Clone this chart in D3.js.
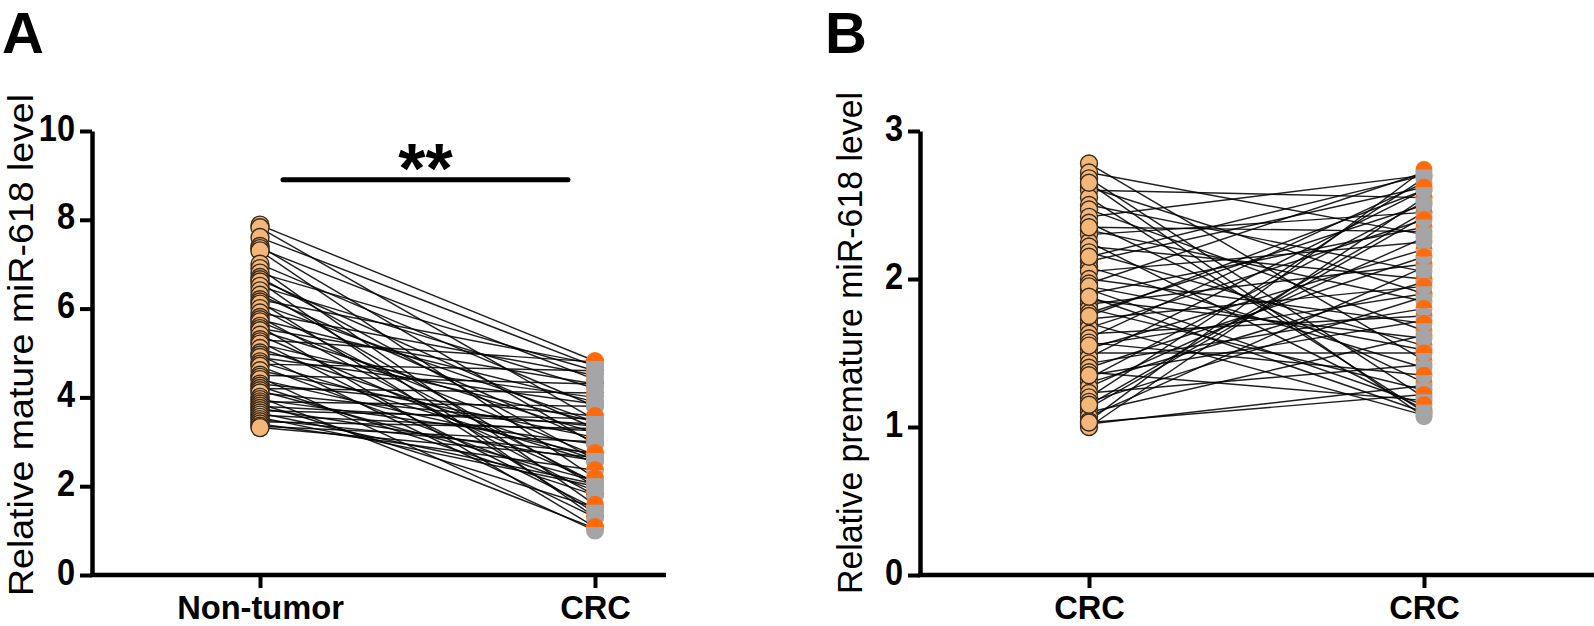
<!DOCTYPE html>
<html><head><meta charset="utf-8">
<script src="https://cdn.jsdelivr.net/npm/d3@7"></script>
<style>
body{margin:0;background:#fff;}
svg{display:block;}
text{font-family:"Liberation Sans",Arial,sans-serif;}
</style></head>
<body>
<svg id="c" width="1594" height="626"></svg>
<script>
// ---- Panel A data (paired: Non-tumor vs CRC) ----
const catsA = ["Non-tumor", "CRC"];
const ticksA = [0, 2, 4, 6, 8, 10];
const nonTumorA = [7.88,7.82,7.6,7.4,7.35,7.3,7.0,6.9,6.8,6.7,6.65,6.6,6.5,6.4,6.3,6.2,6.15,6.1,6.0,5.9,5.8,5.75,5.7,5.6,5.55,5.5,5.4,5.3,5.25,5.2,5.1,5.0,4.95,4.9,4.8,4.75,4.7,4.6,4.5,4.45,4.4,4.3,4.25,4.2,4.15,4.1,4.0,3.95,3.9,3.85,3.8,3.75,3.7,3.65,3.6,3.55,3.5,3.45,3.4,3.35,3.32];
const crcA      = [4.82,3.5,4.7,2.95,4.4,2.18,3.8,1.58,4.6,2.6,3.3,1.3,4.2,2.0,3.0,4.75,1.4,3.45,2.08,4.5,1.8,3.9,2.7,1.08,4.3,3.2,2.1,4.8,1.5,3.45,2.6,4.0,1.3,3.85,2.55,4.6,1.9,3.1,4.3,1.0,2.7,3.58,1.8,4.1,2.12,3.35,1.05,2.95,3.8,1.52,3.4,2.58,3.52,2.05,3.25,2.0,2.75,3.3,2.36,3.0,2.65];
// CRC values whose symbols are plotted last (fully visible)
const frontA = [3.58, 2.75, 2.36, 2.18, 1.58, 1.08];

// ---- Panel B data (paired: CRC vs CRC) ----
const catsB = ["CRC", "CRC"];
const ticksB = [0, 1, 2, 3];
const leftB  = [2.78,2.72,2.68,2.62,2.6,2.55,2.5,2.47,2.42,2.38,2.33,2.3,2.25,2.22,2.18,2.12,2.08,2.05,2.0,1.97,1.93,1.9,1.86,1.83,1.8,1.77,1.73,1.7,1.67,1.63,1.6,1.57,1.53,1.5,1.47,1.43,1.4,1.37,1.33,1.3,1.27,1.23,1.2,1.17,1.13,1.1,1.07,1.04,1.02,1.0,2.65,2.35,1.95,1.75,1.55,1.35,1.15,1.03,2.15,1.88];
const rightB = [1.45,2.3,1.2,1.9,2.55,1.1,2.05,1.65,2.7,1.3,1.85,2.45,1.12,2.0,1.55,2.62,1.4,2.25,1.7,2.72,1.15,2.35,1.6,2.1,1.25,2.5,1.95,1.08,2.4,1.75,2.65,1.35,2.2,1.5,2.6,1.8,2.15,1.18,2.52,1.98,2.28,1.42,2.68,1.88,2.42,1.62,2.08,2.74,1.28,2.55,1.07,2.32,1.52,2.6,1.9,1.72,2.45,1.22,2.7,1.1];
const frontB = [2.62, 2.4, 2.15, 1.95, 1.8, 1.7, 1.5, 1.35, 1.22, 1.15];

const svg = d3.select("#c");
const FONT = '"Liberation Sans",Arial,sans-serif';

function panel(opt){
  const g = svg.append("g");
  const y = d3.scaleLinear().domain(opt.ydomain).range([575, 131]);
  const x = d3.scalePoint().domain([0,1]).range(opt.xr);

  // y axis
  const ya = g.append("g").attr("transform", `translate(${opt.ax},0)`)
    .call(d3.axisLeft(y).tickValues(opt.ticks).tickSize(12).tickSizeOuter(0).tickFormat(d3.format("d")));
  ya.select(".domain").attr("stroke","#000").attr("stroke-width",4.5);
  ya.selectAll(".tick line").attr("stroke","#000").attr("stroke-width",4);
  ya.selectAll(".tick text").attr("font-family",FONT).attr("font-weight","bold")
    .attr("font-size",37).attr("fill","#000").attr("dy",null)
    .attr("transform","scale(0.88,1)").attr("x",-17/0.88).attr("y",9);

  // x axis
  const xa = g.append("g").attr("transform","translate(0,575)")
    .call(d3.axisBottom(x).tickSize(13).tickSizeOuter(0).tickFormat(i => opt.cats[i]));
  xa.select(".domain").remove();
  xa.append("line").attr("x1",opt.ax-2).attr("x2",opt.xend).attr("y1",0).attr("y2",0)
    .attr("stroke","#000").attr("stroke-width",4.5);
  xa.selectAll(".tick line").attr("stroke","#000").attr("stroke-width",4);
  xa.selectAll(".tick text").attr("font-family",FONT).attr("font-weight","bold")
    .attr("font-size",34).attr("fill","#000").attr("dy",null).attr("y",44)
    .attr("transform","scale(0.96,1)").attr("x",0);

  // y title
  g.append("text").attr("transform",`translate(${opt.tx},${opt.ty}) rotate(-90)`)
    .attr("text-anchor","middle").attr("font-family",FONT).attr("font-size",35)
    .attr("textLength",opt.tlen).attr("lengthAdjust","spacingAndGlyphs")
    .attr("fill","#000").text(opt.title);

  // panel letter
  g.append("text").attr("x",opt.lx).attr("y",53).attr("font-family",FONT)
    .attr("font-weight","bold").attr("font-size",58).attr("fill","#000").text(opt.letter);

  // paired lines
  const pairs = opt.a.map((v,i)=>[v,opt.b[i]]);
  g.append("g").selectAll("line").data(pairs).join("line")
    .attr("x1",x(0)).attr("x2",x(1)).attr("y1",d=>y(d[0])).attr("y2",d=>y(d[1]))
    .attr("stroke","#000").attr("stroke-width",1.45).attr("stroke-opacity",0.88);

  // left column points
  g.append("g").selectAll("circle").data(opt.a).join("circle")
    .attr("cx",x(0)).attr("cy",d=>y(d)).attr("r",opt.r)
    .attr("fill","#F4B77A").attr("stroke","#3a2a1a").attr("stroke-width",1.4);

  // right column points: half-filled circles (orange top, grey bottom)
  const topHalf = d3.arc().innerRadius(0).outerRadius(opt.r).startAngle(-Math.PI/2).endAngle(Math.PI/2)();
  const botHalf = d3.arc().innerRadius(0).outerRadius(opt.r).startAngle(Math.PI/2).endAngle(3*Math.PI/2)();
  const front = new Set(opt.front);
  const back = opt.b.filter(v=>!front.has(v)).sort((p,q)=>p-q);
  const fr = opt.b.filter(v=>front.has(v)).sort((p,q)=>q-p);
  const order = back.concat(fr);
  const rp = g.append("g").selectAll("g").data(order).join("g")
    .attr("transform",d=>`translate(${x(1)},${y(d)})`);
  rp.append("path").attr("d",topHalf).attr("fill","#FF6A0A");
  rp.append("path").attr("d",botHalf).attr("fill","#A5A5A7");
  return {g,x,y};
}

const A = panel({ydomain:[0,10], ticks:ticksA, ax:92, xr:[260,595], xend:666, cats:catsA,
  a:nonTumorA, b:crcA, front:frontA, r:9, title:"Relative mature miR-618 level", tx:33, ty:345, tlen:502,
  letter:"A", lx:2});
const B = panel({ydomain:[0,3], ticks:ticksB, ax:920, xr:[1089,1424], xend:1594, cats:catsB,
  a:leftB, b:rightB, front:frontB, r:8.5, title:"Relative premature miR-618 level", tx:862, ty:343, tlen:502,
  letter:"B", lx:825});

// significance bar on panel A
A.g.append("line").attr("x1",283).attr("x2",568).attr("y1",A.y(8.9)).attr("y2",A.y(8.9))
  .attr("stroke","#000").attr("stroke-width",5).attr("stroke-linecap","round");
A.g.append("text").attr("x",(283+568)/2).attr("y",193).attr("text-anchor","middle")
  .attr("font-family",FONT).attr("font-weight","bold").attr("font-size",70).attr("fill","#000").text("**");
</script>
</body></html>
